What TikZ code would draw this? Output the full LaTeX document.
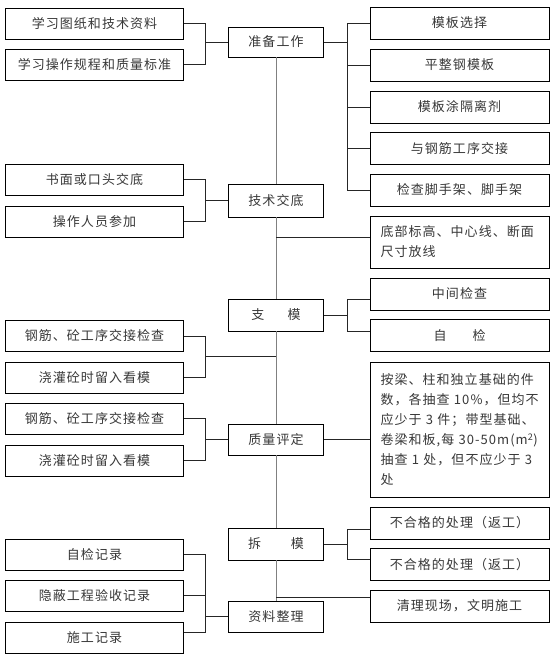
\documentclass[tikz,border=0pt]{standalone}
\usepackage{fontspec}
\newfontfamily\cjkf[LetterSpace=8]{Noto Sans CJK SC}
\begin{document}
\begin{tikzpicture}[x=1pt,y=-1pt,
  box/.style={draw=black, line width=0.9pt, fill=white, inner sep=0pt,
    font=\cjkf\fontsize{13}{20}\selectfont, text=black!78},
  lbox/.style={box, minimum width=178pt, minimum height=31pt},
  rbox/.style={box, minimum width=179pt, minimum height=32pt},
  cbox/.style={box, minimum width=95pt, minimum height=31pt},
  ln/.style={line width=0.9pt, draw=black!85},
  gl/.style={line width=0.9pt, draw=black!50}]
\useasboundingbox (0,0) rectangle (553,666);
% bracket x positions
\coordinate (xl) at (205,0);
\coordinate (xr) at (347,0);

% ---- left column
\node[lbox] (L1) at (94.5,23.5) {学习图纸和技术资料};
\node[lbox] (L2) at (94.5,64.5) {学习操作规程和质量标准};
\node[lbox] (L3) at (94.5,179.5) {书面或口头交底};
\node[lbox] (L4) at (94.5,221.5) {操作人员参加};
\node[lbox] (L5) at (94.5,336) {钢筋、砼工序交接检查};
\node[lbox] (L6) at (94.5,377.5) {浇灌砼时留入看模};
\node[lbox] (L7) at (94.5,418.5) {钢筋、砼工序交接检查};
\node[lbox] (L8) at (94.5,460.5) {浇灌砼时留入看模};
\node[lbox] (L9) at (94.5,554.5) {自检记录};
\node[lbox] (L10) at (94.5,595.5) {隐蔽工程验收记录};
\node[lbox] (L11) at (94.5,638) {施工记录};

% ---- centre column
\node[cbox, minimum height=30pt] (C1) at (276,42) {准备工作};
\node[cbox, minimum height=33pt] (C2) at (276,200.5) {技术交底};
\node[cbox, minimum height=32pt] (C3) at (276,315) {支\hspace{1.8em}模};
\node[cbox] (C4) at (276,439.5) {质量评定};
\node[cbox, minimum height=32pt] (C5) at (276,544) {拆\hspace{2.3em}模};
\node[cbox] (C6) at (276,616.5) {资料整理};

% ---- right column
\node[rbox] (R1) at (459.5,23) {模板选择};
\node[rbox] (R2) at (459.5,65) {平整钢模板};
\node[rbox] (R3) at (459.5,107) {模板涂隔离剂};
\node[rbox] (R4) at (459.5,148.5) {与钢筋工序交接};
\node[rbox] (R5) at (459.5,190) {检查脚手架、脚手架};
\node[rbox, minimum height=52pt, text width=158pt, align=left] (R6) at (459.5,242)
  {底部标高、中心线、断面\\尺寸放线};
\node[rbox] (R7) at (459.5,294) {中间检查};
\node[rbox] (R8) at (459.5,335.5) {自\hspace{2em}检};
\node[rbox, minimum height=135pt, text width=158pt, align=left] (R9) at (459.5,429.5)
  {按梁、柱和独立基础的件\\
   数，各抽查 10\%，但均不\\
   应少于 3 件；带型基础、\\
   卷梁和板,每 30-50m(m\textsuperscript{2})\\
   抽查 1 处，但不应少于 3\\
   处};
\node[rbox] (R10) at (459.5,523) {不合格的处理（返工）};
\node[rbox] (R11) at (459.5,564.5) {不合格的处理（返工）};
\node[rbox] (R12) at (459.5,606) {清理现场，文明施工};

% ---- spine
\draw[gl] (C1.south) -- (C2.north);
\draw[gl] (C2.south) -- (C3.north);
\draw[gl] (C3.south) -- (C4.north);
\draw[gl] (C4.south) -- (C5.north);
\draw[gl] (C5.south) -- (C6.north);

% ---- bracket: L1/L2 -> C1
\draw[ln] (L1.east) -- (L1.east -| xl) -- (L2.east -| xl) -- (L2.east);
\draw[ln] (C1.west -| xl) -- (C1.west);
% ---- C1 -> R1..R5
\draw[ln] (C1.east) -- (C1.east -| xr);
\draw[ln] (R1.west) -- (R1.west -| xr) -- (R5.west -| xr) -- (R5.west);
\draw[ln] (R2.west -| xr) -- (R2.west);
\draw[ln] (R3.west -| xr) -- (R3.west);
\draw[ln] (R4.west -| xr) -- (R4.west);
% ---- L3/L4 -> C2
\draw[ln] (L3.east) -- (L3.east -| xl) -- (L4.east -| xl) -- (L4.east);
\draw[ln] (C2.west -| xl) -- (C2.west);
% ---- spine -> R6
\coordinate (k6) at (276,237);
\draw[ln] (k6) -- (R6.west |- k6);
% ---- C3 -> R7/R8
\coordinate (s1) at (347,299);
\coordinate (s2) at (347,331);
\draw[ln] (C3.east) -- (C3.east -| xr);
\draw[ln] (R7.west |- s1) -- (s1) -- (s2) -- (R8.west |- s2);
% ---- L5/L6 -> spine
\coordinate (m1) at (205,356);
\draw[ln] (L5.east) -- (L5.east -| xl) -- (L6.east -| xl) -- (L6.east);
\draw[ln] (m1) -- (C3.south |- m1);
% ---- L7/L8 -> C4
\draw[ln] (L7.east) -- (L7.east -| xl) -- (L8.east -| xl) -- (L8.east);
\draw[ln] (C4.west -| xl) -- (C4.west);
% ---- C4 -> R9
\draw[ln] (C4.east) -- (R9.west |- C4.east);
% ---- C5 -> R10/R11
\coordinate (t1) at (347,529);
\coordinate (t2) at (347,559);
\draw[ln] (C5.east) -- (C5.east -| xr);
\draw[ln] (R10.west |- t1) -- (t1) -- (t2) -- (R11.west |- t2);
% ---- spine -> R12
\coordinate (q) at (276,597);
\draw[ln] (q) -- (R12.west |- q);
% ---- L9..L11 -> C6
\coordinate (u1) at (205,632);
\draw[ln] (L9.east) -- (L9.east -| xl) -- (u1) -- (L11.east |- u1);
\draw[ln] (L10.east) -- (L10.east -| xl);
\draw[ln] (C6.west -| xl) -- (C6.west);
\end{tikzpicture}
\end{document}
